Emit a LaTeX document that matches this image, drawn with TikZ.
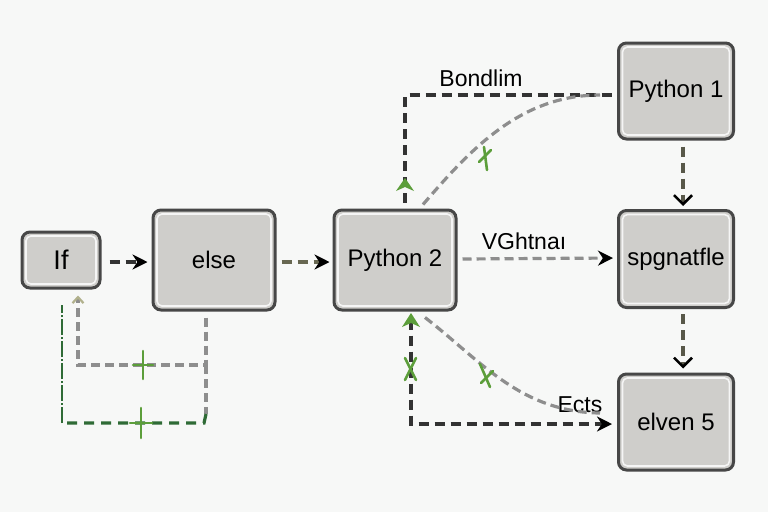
\documentclass[tikz,border=0pt]{standalone}
\usepackage{fontspec}
\setmainfont{Liberation Sans}
\usetikzlibrary{arrows.meta,calc}
\definecolor{bg}{HTML}{F7F8F7}
\definecolor{boxfill}{HTML}{CFCECB}
\definecolor{boxedge}{HTML}{474747}
\definecolor{darkline}{HTML}{333333}
\definecolor{greyline}{HTML}{8E8E8E}
\definecolor{greenmark}{HTML}{5C9E3A}
\definecolor{darkgreen}{HTML}{2F6B36}
\definecolor{yellowish}{HTML}{C9C98A}
\tikzset{
  box/.style={draw=boxedge, line width=3pt, fill=boxfill, rounded corners=8pt,
    font=\fontsize{24}{26}\selectfont, text=black,
    path picture={\draw[white!80!boxfill, line width=1.6pt, rounded corners=5pt]
      ([shift={(4pt,-4pt)}]path picture bounding box.north west) rectangle
      ([shift={(-4pt,4pt)}]path picture bounding box.south east);}},
  lbl/.style={font=\fontsize{23}{25}\selectfont, text=black, inner sep=0pt},
  darkdash/.style={draw=darkline, line width=3.4pt, dash pattern=on 10pt off 6pt},
  greydash/.style={draw=greyline, line width=3.2pt, dash pattern=on 9pt off 5pt},
  greendash/.style={draw=darkgreen, line width=3.2pt, dash pattern=on 10pt off 7pt},
  blacktip/.style={-{Stealth[length=15pt,width=15pt,color=black]}},
  chevtip/.style={-{Straight Barb[length=9pt,width=18pt,line width=2.6pt,color=black]}},
  greentick/.style={draw=greenmark, line width=2.6pt, line cap=round},
}
\begin{document}
\begin{tikzpicture}[x=1pt,y=-1pt]
\useasboundingbox[fill=bg] (0,0) rectangle (768,512);

% nodes
\node[box, minimum width=78pt, minimum height=56pt, font=\fontsize{27}{28}\selectfont] (if) at (61,260) {If};
\node[box, minimum width=122pt, minimum height=100pt] (else) at (214,260) {else};
\node[box, minimum width=122pt, minimum height=100pt] (py2) at (395,260) {Python 2};
\node[box, minimum width=115pt, minimum height=96pt] (py1) at (676,91) {Python 1};
\node[box, minimum width=115pt, minimum height=97pt] (spg) at (676,259) {spgnatfle};
\node[box, minimum width=115pt, minimum height=96pt] (elv) at (676,422) {elven 5};

% labels
\node[lbl] (lb1) at (481,78) {Bondlim};
\node[lbl] (lb2) at (524,241) {VGhtnaı};
\node[lbl] (lb3) at (580,405) {Ects};

% If -> else
\draw[darkdash, blacktip] ($(if.east)+(8,2)$) -- ($(else.west)+(-4,2)$);
% else -> Python 2
\draw[darkdash, draw=darkline!65!yellowish, blacktip] ($(else.east)+(5,2)$) -- ($(py2.west)+(-3,2)$);
% Python 2 -> spgnatfle
\draw[greydash, blacktip] ($(py2.east)+(5,-1)$) -- ($(spg.west)+(-4,-1)$);
% Python 1 -> spgnatfle
\draw[darkdash, draw=darkline!75!yellowish, chevtip] ($(py1.south)+(7,6)$) -- ($(spg.north)+(7,-3)$);
% spgnatfle -> elven 5
\draw[darkdash, draw=darkline!75!yellowish, chevtip] ($(spg.south)+(7,5)$) -- ($(elv.north)+(7,-4)$);

% Python 2 top <-> Python 1 (Bondlim)
\coordinate (c1) at (405,95);
\draw[darkdash] ($(py2.north)+(10,-6)$) -- (c1) -- ($(py1.west)+(-5,4)$);
\fill[greenmark] (405,178) -- (414,191) -- (405,187) -- (396,191) -- cycle;
% curve from Python 2 to Python 1 line
\draw[greydash] ($(py2.north)+(28,-4)$) .. controls (470,150) and (520,95) .. (600,95);
\draw[greentick] (479,162) -- (491,150);
\draw[greentick] (484,147) -- (487,170);

% Python 2 bottom <-> elven 5
\coordinate (c2) at (411,424);
\draw[darkdash, blacktip] ($(py2.south)+(16,8)$) -- (c2) -- ($(elv.west)+(-5,2)$);
\fill[greenmark] (411,313) -- (420,327) -- (411,323) -- (402,327) -- cycle;
\draw[greentick] (405,358) -- (416,380);
\draw[greentick] (416,358) -- (405,380);
% curve Python 2 -> Ects
\draw[greydash] ($(py2.south)+(30,6)$) .. controls (480,360) and (520,412) .. (600,413);
\draw[greentick] (480,364) -- (490,387);
\draw[greentick] (481,383) -- (493,371);

% else -> If loop
\coordinate (c3) at (206,365);
\coordinate (c4) at (78,365);
\draw[greydash, -{Straight Barb[length=6pt,width=11pt,line width=2.2pt,color=yellowish!60!greyline]}] ($(else.south)+(-8,6)$) -- (c3) -- (c4) -- ($(if.south)+(17,6)$);
\draw[greentick] (143,351) -- (143,379);
\draw[greentick] (133,365) -- (153,365);

% lower green loop
\coordinate (c5) at (206,414);
\coordinate (c6) at (62,423);
\coordinate (c7) at (62,305);
\draw[greydash] (c3) -- (c5);
\draw[greendash] (c5) -- (204,423) -- (c6);
\draw[draw=darkgreen, line width=2.2pt, dash pattern=on 16pt off 2pt on 2pt off 2pt] (c6) -- (c7);
\draw[greentick] (141,408) -- (141,438);
\draw[greentick] (130,423) -- (152,423);
\end{tikzpicture}
\end{document}
